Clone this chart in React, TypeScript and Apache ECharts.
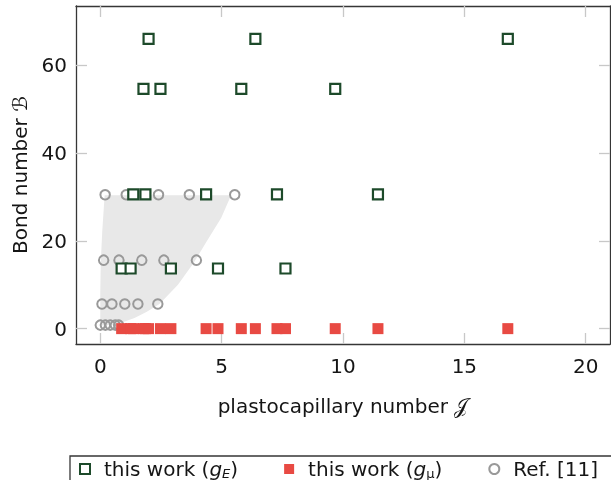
import React, { useEffect, useRef } from "react";
import * as echarts from "echarts";

// ---- data ----
const xTicks = [0, 5, 10, 15, 20];
const yTicks = [0, 20, 40, 60];

// this work (g_E)
const gEJ = [1.99, 6.39, 16.79, 1.78, 2.48, 5.81, 9.68, 1.36, 1.86, 4.36, 7.28, 11.44, 0.88, 1.25, 2.91, 4.85, 7.63];
const gEB = [66, 66, 66, 54.6, 54.6, 54.6, 54.6, 30.6, 30.6, 30.6, 30.6, 30.6, 13.7, 13.7, 13.7, 13.7, 13.7];

// this work (g_mu)
const gMuJ = [0.88, 1.25, 1.36, 1.78, 1.86, 1.99, 2.48, 2.91, 4.36, 4.85, 5.81, 6.39, 7.28, 7.63, 9.68, 11.44, 16.79];
const gMuB = [0, 0, 0, 0, 0, 0, 0, 0, 0, 0, 0, 0, 0, 0, 0, 0, 0];

// Ref. [11]
const refJ = [0.2, 1.07, 2.4, 3.67, 5.54, 0.14, 0.77, 1.71, 2.62, 3.96, 0.07, 0.48, 1.01, 1.55, 2.37, 0.0, 0.21, 0.41, 0.62, 0.76];
const refB = [30.5, 30.5, 30.5, 30.5, 30.5, 15.6, 15.6, 15.6, 15.6, 15.6, 5.6, 5.6, 5.6, 5.6, 5.6, 0.8, 0.8, 0.8, 0.8, 0.8];

// shaded region boundary (closed polygon)
const shadeJ = [0.0, 0.0, 0.02, 0.08, 0.18, 5.39, 4.98, 4.4, 3.85, 3.2, 2.44, 1.9, 1.41, 0.95, 0.6, 0.0];
const shadeB = [0.7, 8, 15, 22, 30.4, 30.4, 25.2, 20, 15, 10, 5.6, 3.8, 2.4, 1.5, 0.9, 0.7];

const NAME_E = "this work (gE)";
const NAME_MU = "this work (gμ)";
const NAME_REF = "Ref. [11]";

const FONT = "DejaVu Sans";
const TXT = "#151515";
const FS = 20;

const zip = (a: number[], b: number[]) => a.map((v, i) => [v, b[i]]);

export default function App() {
  const ref = useRef<HTMLDivElement>(null);
  useEffect(() => {
    if (!ref.current) return;
    const chart = echarts.init(ref.current, null, { renderer: "svg" });
    const frame = { show: true, onZero: false, lineStyle: { color: "#363636", width: 1.3 } };
    const tick = (vals: number[]) => ({
      show: true,
      inside: true,
      length: 11,
      customValues: vals,
      lineStyle: { color: "#c8c8c8", width: 1.3 },
    });
    chart.setOption({
      animation: false,
      grid: { left: 76, right: 1, top: 6, bottom: 136 },
      xAxis: [
        {
          type: "value",
          min: -1,
          max: 21,
          position: "bottom",
          axisLine: frame,
          axisTick: tick(xTicks),
          axisLabel: { customValues: xTicks, fontSize: FS, color: TXT, fontFamily: FONT, margin: 12 },
          splitLine: { show: false },
          name: "plastocapillary number 𝒥",
          nameLocation: "middle",
          nameGap: 52,
          nameTextStyle: { fontSize: FS, color: TXT, fontFamily: FONT },
        },
        {
          type: "value",
          min: -1,
          max: 21,
          position: "top",
          axisLine: frame,
          axisTick: tick(xTicks),
          axisLabel: { show: false },
          splitLine: { show: false },
        },
      ],
      yAxis: [
        {
          type: "value",
          min: -3.5,
          max: 73.5,
          position: "left",
          axisLine: frame,
          axisTick: tick(yTicks),
          axisLabel: { customValues: yTicks, fontSize: FS, color: TXT, fontFamily: FONT, margin: 9 },
          splitLine: { show: false },
          name: "Bond number ℬ",
          nameLocation: "middle",
          nameGap: 46,
          nameRotate: 90,
          nameTextStyle: { fontSize: FS, color: TXT, fontFamily: FONT },
        },
        {
          type: "value",
          min: -3.5,
          max: 73.5,
          position: "right",
          axisLine: frame,
          axisTick: tick(yTicks),
          axisLabel: { show: false },
          splitLine: { show: false },
        },
      ],
      legend: {
        data: [NAME_E, NAME_MU, NAME_REF],
        left: 79,
        top: 459,
        padding: 0,
        itemWidth: 10,
        itemHeight: 10,
        itemGap: 46,
        formatter: (name: string) => {
          if (name === NAME_E) return "{a|this work (}{i|g}{s|E}{t|)}";
          if (name === NAME_MU) return "{a|this work (}{i|g}{u|μ}{t|)}";
          return "{a|Ref. [11]}";
        },
        textStyle: {
          fontSize: FS,
          fontFamily: FONT,
          color: TXT,
          rich: {
            a: { fontSize: FS, fontFamily: FONT, color: TXT, padding: [0, 0, 0, 9] },
            t: { fontSize: FS, fontFamily: FONT, color: TXT },
            i: { fontSize: FS, fontFamily: FONT, color: TXT, fontStyle: "italic" },
            s: { fontSize: 13, fontFamily: FONT, color: TXT, fontStyle: "italic", padding: [8, 0, 0, 0] },
            u: { fontSize: 13, fontFamily: FONT, color: TXT, padding: [8, 0, 0, 0] },
          },
        },
      },
      graphic: [
        {
          type: "rect",
          shape: { x: 70, y: 456, width: 600, height: 40 },
          style: { fill: "none", stroke: "#363636", lineWidth: 1.3 },
          silent: true,
        },
      ],
      series: [
        {
          type: "custom",
          name: "shade",
          data: zip(shadeJ, shadeB),
          clip: true,
          silent: true,
          z: 1,
          renderItem: (params: any, api: any) => {
            if (params.dataIndex !== 0) return null;
            const pts = shadeJ.map((j, i) => api.coord([j, shadeB[i]]));
            return {
              type: "polygon",
              shape: { points: pts },
              style: { fill: "#e8e8e8" },
            };
          },
        },
        {
          type: "scatter",
          name: NAME_REF,
          data: zip(refJ, refB),
          symbol: "circle",
          symbolSize: 9.5,
          itemStyle: { color: "rgba(255,255,255,0)", borderColor: "#999999", borderWidth: 2, opacity: 1 },
          z: 2,
        },
        {
          type: "scatter",
          name: NAME_MU,
          data: zip(gMuJ, gMuB),
          symbol: "rect",
          symbolSize: 11,
          itemStyle: { color: "#e84a43", opacity: 1 },
          z: 3,
        },
        {
          type: "scatter",
          name: NAME_E,
          data: zip(gEJ, gEB),
          symbol: "rect",
          symbolSize: 10,
          itemStyle: { color: "#ffffff", borderColor: "#1d4a2a", borderWidth: 2.2, opacity: 1 },
          z: 4,
        },
      ],
    });
    return () => chart.dispose();
  }, []);
  return <div ref={ref} style={{ position: "fixed", left: 0, top: 0, width: 611, height: 480 }} />;
}
